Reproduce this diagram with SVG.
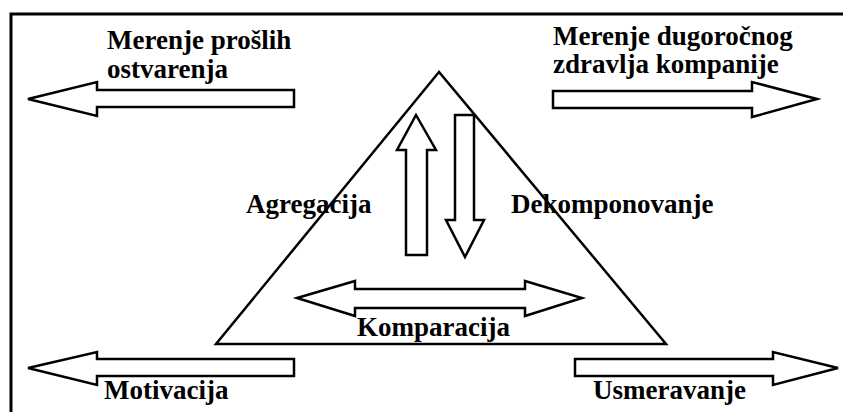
<svg xmlns="http://www.w3.org/2000/svg" width="843" height="412" viewBox="0 0 843 412">
<style>
.s{fill:#fff;stroke:#000;stroke-width:2.5;stroke-linejoin:miter}
.t{font-family:"Liberation Serif","Times New Roman",serif;font-weight:bold;font-size:27px;fill:#000}
</style>
<rect width="843" height="412" fill="#fff"/>
<path d="M11,414 V14 H845" fill="none" stroke="#000" stroke-width="3"/>
<g id="triangle"><polygon class="s" points="439,72 216,344 666,344"/></g>
<g id="connectors">
<polygon id="arrow-past" class="s" points="28,99 97,82 97,90 294,90 294,107 97,107 97,116"/>
<polygon id="arrow-health" class="s" points="817,99 752,82 752,91 553,91 553,108 752,108 752,117"/>
<polygon id="arrow-motivation" class="s" points="28,368 97,352 97,359 294,359 294,376 97,376 97,385"/>
<polygon id="arrow-direction" class="s" points="838,368 773,352 773,359 575,359 575,376 773,376 773,385"/>
<polygon id="arrow-up" class="s" points="416,115 436,150 427,150 427,255 406,255 406,150 397,150"/>
<polygon id="arrow-down" class="s" points="465,257 484,220 474,220 474,115 455,115 455,220 446,220"/>
<polygon id="arrow-both" class="s" points="297,298 355,281 355,289 525,289 525,281 582,298 525,316 525,308 355,308 355,316"/>
</g>
<g id="label-past"><text class="t" x="107" y="49">Merenje prošlih</text><text class="t" x="107" y="78">ostvarenja</text></g>
<g id="label-health"><text class="t" x="553" y="45">Merenje dugoročnog</text><text class="t" x="553" y="73">zdravlja kompanije</text></g>
<g id="label-agg"><text class="t" x="246" y="213">Agregacija</text></g>
<g id="label-dec"><text class="t" x="511" y="213">Dekomponovanje</text></g>
<g id="label-comp"><text class="t" x="357" y="336">Komparacija</text></g>
<g id="label-mot"><text class="t" x="104" y="399">Motivacija</text></g>
<g id="label-usm"><text class="t" x="593" y="399">Usmeravanje</text></g>
</svg>
